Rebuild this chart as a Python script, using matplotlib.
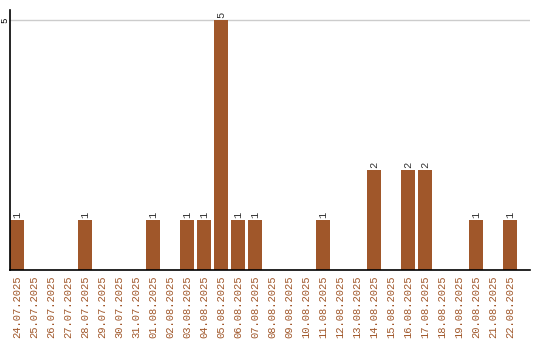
import matplotlib
matplotlib.use('Agg')
import matplotlib.pyplot as plt
import matplotlib.transforms as mtransforms
import pandas as pd

dates = pd.date_range('2025-07-24', '2025-08-22').strftime('%d.%m.%Y').tolist()
counts = [1, 0, 0, 0, 1, 0, 0, 0, 1, 0, 1, 1, 5, 1, 1, 0, 0, 0, 1, 0, 0, 2, 0, 2, 2, 0, 0, 1, 0, 1]

bar_color = '#a0572a'
font = 'Liberation Mono'

fig = plt.figure(figsize=(5.4, 3.4), dpi=100)
ax = fig.add_axes([10 / 540, 70 / 340, 520 / 540, 260 / 340])
x = range(len(dates))
ax.bar(x, counts, width=0.82, color=bar_color, zorder=2)
for i, c in enumerate(counts):
    if c > 0:
        ax.text(i, c + 0.05, str(c), rotation=90, ha='center', va='bottom',
                fontsize=7.5, color='#333333', family=font)

ax.set_xlim(-0.41, 30.18)
ax.set_ylim(0, 5.2)
ax.set_yticks([5])
ax.set_yticklabels([''])
ax.tick_params(axis='y', length=0)
trans = mtransforms.blended_transform_factory(ax.transAxes, ax.transData)
ax.text(-5 / 520, 5, '5', rotation=90, ha='center', va='center',
        fontsize=6.5, family=font, transform=trans, clip_on=False)
ax.grid(axis='y', color='#cccccc', linewidth=1, zorder=0)
ax.set_xticks(list(x))
ax.set_xticklabels(dates, rotation=90, fontsize=7.6, color=bar_color, family=font)
ax.tick_params(axis='x', length=0, pad=4)
for s in ['top', 'right']:
    ax.spines[s].set_visible(False)
ax.spines['left'].set_linewidth(1.2)
ax.spines['bottom'].set_linewidth(1.2)

fig.savefig('out.png', dpi=100)
